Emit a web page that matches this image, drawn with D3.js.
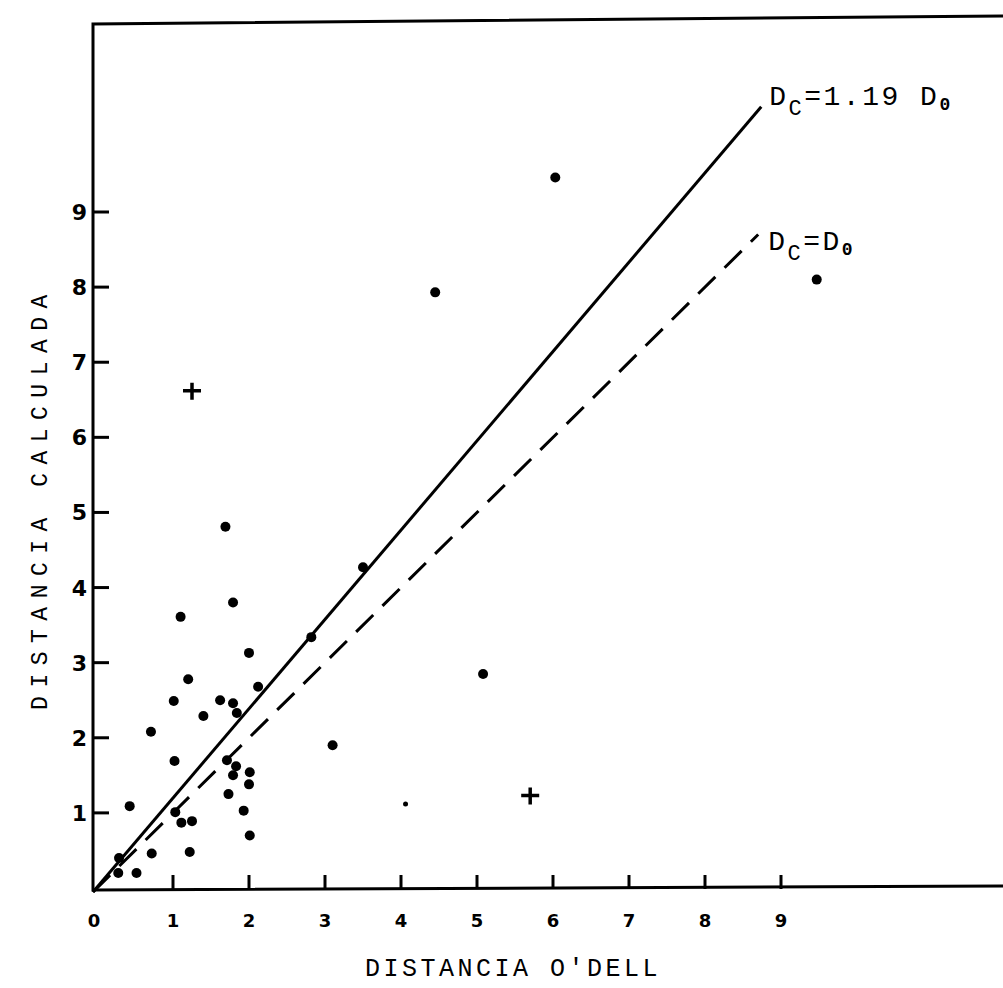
<!DOCTYPE html>
<meta charset="utf-8">
<style>
body { margin: 0; background: #fff; }
.frame { fill: none; stroke: #000; stroke-width: 3px; }
.tick { stroke: #000; stroke-width: 3px; }
.num { font-family: "DejaVu Sans", sans-serif; font-weight: bold; fill: #000; }
.mono { font-family: "Liberation Mono", "DejaVu Sans Mono", monospace; fill: #000; }
.fit { fill: none; stroke: #000; stroke-width: 3px; }
</style>
<body>
<script src="https://cdn.jsdelivr.net/npm/d3@7"></script>
<script>

// axis ticks
var xTicks = [0, 1, 2, 3, 4, 5, 6, 7, 8, 9];
var yTicks = [1, 2, 3, 4, 5, 6, 7, 8, 9];

// observed points (distancia O'Dell, distancia calculada)
var dotX = [1.79, 1.10, 2.00, 2.82, 1.20, 2.12, 1.01, 1.62, 1.79, 1.84, 1.40, 0.71, 3.10,
            1.02, 1.71, 1.83, 1.79, 2.01, 2.00, 1.73, 1.93, 0.43, 1.03, 1.11, 1.25, 2.01,
            0.72, 1.22, 0.29, 0.28, 0.52, 1.69, 5.08, 6.03, 4.45, 3.50, 9.47];
var dotY = [3.80, 3.61, 3.13, 3.34, 2.78, 2.68, 2.49, 2.50, 2.46, 2.33, 2.29, 2.08, 1.90,
            1.69, 1.70, 1.62, 1.50, 1.54, 1.38, 1.25, 1.03, 1.09, 1.01, 0.87, 0.89, 0.70,
            0.46, 0.48, 0.40, 0.20, 0.20, 4.81, 2.85, 9.46, 7.93, 4.27, 8.10];
var smallDotX = [4.06];
var smallDotY = [1.12];
var crossX = [1.25, 5.70];
var crossY = [6.62, 1.23];

// reference lines
var lineSlopes = [1.19, 1];
var lineEndX = [8.74, 8.70];
var lineDashed = [false, true];

var x = d3.scaleLinear().domain([0, 9]).range([97, 781]);
var y = d3.scaleLinear().domain([0, 9]).range([888, 212]);

var svg = d3.select("body").append("svg")
    .attr("width", 1003)
    .attr("height", 988);

// frame: left axis, top border, bottom axis
svg.append("path")
    .attr("class", "frame")
    .attr("d", "M1003,16 L93,24 L93,890 L1003,886");

// y ticks and labels
svg.selectAll(".ytick").data(yTicks).enter().append("line")
    .attr("class", "tick")
    .attr("x1", 93).attr("x2", 109)
    .attr("y1", function(d) { return y(d); })
    .attr("y2", function(d) { return y(d); });

svg.selectAll(".ylab").data(yTicks).enter().append("text")
    .attr("class", "num")
    .attr("x", 87)
    .attr("y", function(d) { return y(d) + 8; })
    .attr("text-anchor", "end")
    .style("font-size", "22px")
    .text(function(d) { return d; });

// x ticks (no mark at 0) and labels
svg.selectAll(".xtick").data(xTicks.slice(1)).enter().append("line")
    .attr("class", "tick")
    .attr("x1", function(d) { return x(d); })
    .attr("x2", function(d) { return x(d); })
    .attr("y1", 889).attr("y2", 875);

svg.selectAll(".xlab").data(xTicks).enter().append("text")
    .attr("class", "num")
    .attr("x", function(d) { return x(d) - (d === 0 ? 3 : 0); })
    .attr("y", 927)
    .attr("text-anchor", "middle")
    .style("font-size", "18px")
    .text(function(d) { return d; });

// reference lines
lineSlopes.forEach(function(s, i) {
  svg.append("path")
      .attr("class", "fit")
      .attr("d", d3.line()([[x(0) - 4, y(0) + 4], [x(lineEndX[i]), y(s * lineEndX[i])]]))
      .style("stroke-dasharray", lineDashed[i] ? "24,13" : null);
});

// line labels
var lab1 = svg.append("text").attr("class", "mono")
    .attr("x", x(lineEndX[0]) + 8).attr("y", y(lineSlopes[0] * lineEndX[0]) - 2)
    .style("font-size", "28px")
    .style("letter-spacing", "2.5px");
lab1.append("tspan").text("D");
lab1.append("tspan").attr("dy", 10).style("font-size", "22px").text("C");
lab1.append("tspan").attr("dy", -10).text("=1.19 D");
lab1.append("tspan").attr("dy", 5).style("font-size", "18px").style("font-weight", "bold").text("0");

var lab2 = svg.append("text").attr("class", "mono")
    .attr("x", x(lineEndX[1]) + 10).attr("y", y(lineSlopes[1] * lineEndX[1]) + 15)
    .style("font-size", "28px")
    .style("letter-spacing", "2.5px");
lab2.append("tspan").text("D");
lab2.append("tspan").attr("dy", 10).style("font-size", "22px").text("C");
lab2.append("tspan").attr("dy", -10).text("=D");
lab2.append("tspan").attr("dy", 5).style("font-size", "18px").style("font-weight", "bold").text("0");

// points
svg.selectAll(".dot").data(dotX).enter().append("circle")
    .attr("cx", function(d) { return x(d); })
    .attr("cy", function(d, i) { return y(dotY[i]); })
    .attr("r", 5)
    .style("fill", "#000");

svg.selectAll(".sdot").data(smallDotX).enter().append("circle")
    .attr("cx", function(d) { return x(d); })
    .attr("cy", function(d, i) { return y(smallDotY[i]); })
    .attr("r", 2.5)
    .style("fill", "#000");

svg.selectAll(".cross").data(crossX).enter().append("path")
    .attr("d", function(d, i) {
      var cx = x(d), cy = y(crossY[i]);
      return "M" + (cx - 9) + "," + cy + "H" + (cx + 9) + "M" + cx + "," + (cy - 8) + "V" + (cy + 9);
    })
    .style("stroke", "#000")
    .style("stroke-width", "3.5px");

// axis titles
svg.append("text").attr("class", "mono")
    .attr("x", 513).attr("y", 976)
    .attr("text-anchor", "middle")
    .style("font-size", "25px")
    .style("letter-spacing", "3.5px")
    .text("DISTANCIA O'DELL");

svg.append("text").attr("class", "mono")
    .attr("transform", "translate(47,498) rotate(-90)")
    .attr("text-anchor", "middle")
    .style("font-size", "23px")
    .style("letter-spacing", "8.5px")
    .text("DISTANCIA CALCULADA");

</script>
</body>
